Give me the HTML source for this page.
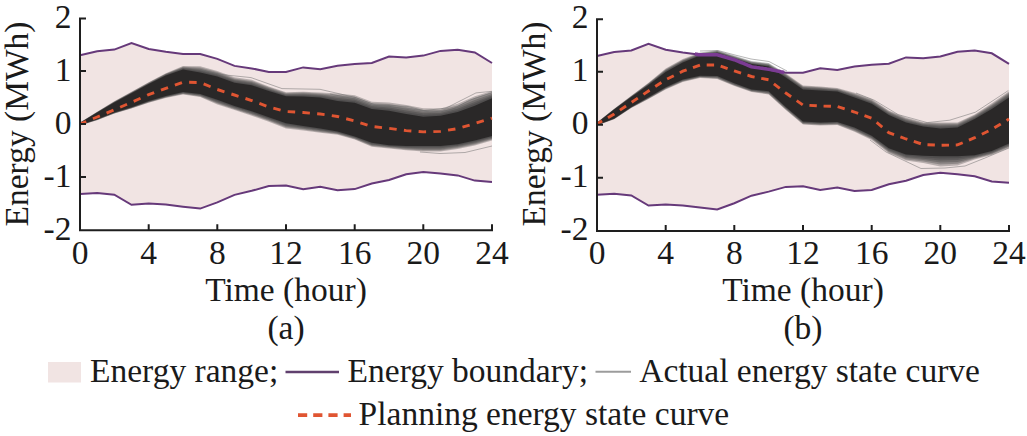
<!DOCTYPE html>
<html><head><meta charset="utf-8"><style>
html,body{margin:0;padding:0;background:#fff;}
svg{display:block;}
text{font-family:"Liberation Serif",serif;font-size:33.5px;fill:#1a1a1a;}
</style></head><body>
<svg width="1027" height="436" viewBox="0 0 1027 436">
<g transform="translate(0,0)">
<polygon points="80,55.2 97.2,51.3 114.3,49.6 131.5,43 148.7,49 165.8,51.7 183,54 200.2,54 217.3,58.9 234.5,65.9 251.7,68.4 268.8,71.9 286,72 303.2,67.4 320.3,69.2 337.5,65.7 354.7,64 371.8,63 389,56.6 406.2,57.5 423.3,55.6 440.5,50.9 457.7,49.8 474.8,52.5 492,63 492,182 474.8,180.6 457.7,175.4 440.5,173.4 423.3,171.9 406.2,174.2 389,180 371.8,183.5 354.7,189.1 337.5,190.3 320.3,186.8 303.2,189.3 286,185.5 268.8,186.1 251.7,190.8 234.5,194.9 217.3,202.4 200.2,208.6 183,206.7 165.8,204.6 148.7,203.6 131.5,204.8 114.3,194.7 97.2,192.9 80,193.9" fill="#f1e4e3"/>
<polygon points="80,122.4 97.2,111.7 114.3,101.3 131.5,91.8 148.7,82.3 165.8,73.2 183,66 200.2,66.2 217.3,71 234.5,77.3 251.7,79.8 268.8,86.4 286,92.3 303.2,91.7 320.3,92.6 337.5,93.6 354.7,95.2 371.8,101.8 389,102.4 406.2,105.1 423.3,108.3 440.5,108.4 457.7,103.7 474.8,96.2 492,90.9 492,140.5 474.8,145.5 457.7,149 440.5,151.6 423.3,151.6 406.2,150.3 389,148.4 371.8,146.8 354.7,139.6 337.5,134.8 320.3,132.8 303.2,130.5 286,128.5 268.8,121.7 251.7,115.7 234.5,110 217.3,104.6 200.2,97 183,94.5 165.8,98 148.7,102.7 131.5,108.5 114.3,113.6 97.2,120.2 80,125.5" fill="#333" fill-opacity="0.3"/>
<polygon points="80,122.5 97.2,111.9 114.3,101.6 131.5,92.1 148.7,82.6 165.8,73.7 183,66.7 200.2,67.4 217.3,72.1 234.5,78.4 251.7,80.9 268.8,87.3 286,93.1 303.2,92.6 320.3,93.5 337.5,95.1 354.7,96.7 371.8,103.2 389,104.1 406.2,106.9 423.3,110 440.5,109.9 457.7,105.4 474.8,98.1 492,92.4 492,139.6 474.8,144.5 457.7,148 440.5,150.5 423.3,150.5 406.2,149.4 389,147.8 371.8,146 354.7,139 337.5,134.1 320.3,131.9 303.2,129.6 286,127.5 268.8,120.8 251.7,114.8 234.5,109.2 217.3,103.6 200.2,96.4 183,94 165.8,97.6 148.7,102.4 131.5,108.2 114.3,113.4 97.2,120 80,125.4" fill="#333" fill-opacity="0.3"/>
<polygon points="80,122.7 97.2,112 114.3,101.8 131.5,92.4 148.7,83 165.8,74.1 183,67.4 200.2,68.7 217.3,73.2 234.5,79.5 251.7,82 268.8,88.2 286,93.9 303.2,93.6 320.3,94.5 337.5,96.6 354.7,98.2 371.8,104.7 389,105.7 406.2,108.7 423.3,111.7 440.5,111.4 457.7,107.1 474.8,100 492,93.9 492,138.7 474.8,143.5 457.7,147.1 440.5,149.4 423.3,149.4 406.2,148.6 389,147.1 371.8,145.2 354.7,138.3 337.5,133.5 320.3,131.1 303.2,128.7 286,126.4 268.8,119.9 251.7,113.9 234.5,108.4 217.3,102.7 200.2,95.8 183,93.5 165.8,97.2 148.7,102.1 131.5,108 114.3,113.2 97.2,119.8 80,125.3" fill="#333" fill-opacity="0.3"/>
<polygon points="80,122.8 97.2,112.2 114.3,102 131.5,92.7 148.7,83.4 165.8,74.6 183,68.1 200.2,70 217.3,74.3 234.5,80.6 251.7,83.1 268.8,89.2 286,94.7 303.2,94.6 320.3,95.5 337.5,98.1 354.7,99.7 371.8,106.1 389,107.4 406.2,110.5 423.3,113.3 440.5,112.9 457.7,108.7 474.8,101.9 492,95.4 492,137.8 474.8,142.6 457.7,146.1 440.5,148.2 423.3,148.2 406.2,147.7 389,146.5 371.8,144.4 354.7,137.7 337.5,132.8 320.3,130.2 303.2,127.8 286,125.4 268.8,119.1 251.7,113 234.5,107.6 217.3,101.7 200.2,95.2 183,93 165.8,96.8 148.7,101.7 131.5,107.7 114.3,113 97.2,119.7 80,125.2" fill="#333" fill-opacity="0.3"/>
<polygon points="80,122.9 97.2,112.4 114.3,102.3 131.5,93 148.7,83.7 165.8,75 183,68.8 200.2,71.2 217.3,75.4 234.5,81.7 251.7,84.2 268.8,90.1 286,95.5 303.2,95.5 320.3,96.5 337.5,99.5 354.7,101.2 371.8,107.6 389,109 406.2,112.2 423.3,115 440.5,114.3 457.7,110.4 474.8,103.8 492,96.8 492,136.9 474.8,141.6 457.7,145.2 440.5,147.1 423.3,147.1 406.2,146.9 389,145.8 371.8,143.6 354.7,137 337.5,132.2 320.3,129.4 303.2,126.9 286,124.3 268.8,118.2 251.7,112.1 234.5,106.8 217.3,100.8 200.2,94.6 183,92.5 165.8,96.4 148.7,101.4 131.5,107.5 114.3,112.8 97.2,119.5 80,125.1" fill="#333" fill-opacity="0.3"/>
<polyline points="200,70 223,74.7 251,77.6 282,88.6 320,89.3 355,97.4 375,104.8 408,106.5 424,110.6 446,108.1 476,92.9 492,91.3" fill="none" stroke="#6a6a6a" stroke-opacity="0.55" stroke-width="0.9"/>
<polyline points="330,94 355,99 375,106 408,108.5 430,112 450,110.5 470,100 492,92.5" fill="none" stroke="#6a6a6a" stroke-opacity="0.55" stroke-width="0.9"/>
<polyline points="420,152 440,153.5 465,152.5 492,146" fill="none" stroke="#6a6a6a" stroke-opacity="0.55" stroke-width="0.9"/>
<polygon points="80,123 97.2,112.6 114.3,102.5 131.5,93.3 148.7,84.1 165.8,75.5 183,69.5 200.2,72.5 217.3,76.5 234.5,82.8 251.7,85.3 268.8,91 286,96.3 303.2,96.5 320.3,97.5 337.5,101 354.7,102.7 371.8,109 389,110.7 406.2,114 423.3,116.7 440.5,115.8 457.7,112.1 474.8,105.7 492,98.3 492,136 474.8,140.6 457.7,144.2 440.5,146 423.3,146 406.2,146 389,145.2 371.8,142.8 354.7,136.4 337.5,131.5 320.3,128.5 303.2,126 286,123.3 268.8,117.3 251.7,111.2 234.5,106 217.3,99.8 200.2,94 183,92 165.8,96 148.7,101.1 131.5,107.2 114.3,112.6 97.2,119.3 80,125" fill="#2a2828"/>
<polyline points="80,55.2 97.2,51.3 114.3,49.6 131.5,43 148.7,49 165.8,51.7 183,54 200.2,54 217.3,58.9 234.5,65.9 251.7,68.4 268.8,71.9 286,72 303.2,67.4 320.3,69.2 337.5,65.7 354.7,64 371.8,63 389,56.6 406.2,57.5 423.3,55.6 440.5,50.9 457.7,49.8 474.8,52.5 492,63" fill="none" stroke="#66397a" stroke-width="2"/>
<polyline points="80,193.9 97.2,192.9 114.3,194.7 131.5,204.8 148.7,203.6 165.8,204.6 183,206.7 200.2,208.6 217.3,202.4 234.5,194.9 251.7,190.8 268.8,186.1 286,185.5 303.2,189.3 320.3,186.8 337.5,190.3 354.7,189.1 371.8,183.5 389,180 406.2,174.2 423.3,171.9 440.5,173.4 457.7,175.4 474.8,180.6 492,182" fill="none" stroke="#66397a" stroke-width="2"/>
<polyline points="80,124 97.2,117 114.3,109.8 131.5,102.3 148.7,94.6 165.8,88.3 183,82.2 200.2,82.5 217.3,89.5 234.5,95 251.7,100.5 268.8,107 286,111.5 303.2,112.5 320.3,114 337.5,116.5 354.7,121 371.8,126.5 389,128.3 406.2,130.6 423.3,131.9 440.5,131.4 457.7,128.6 474.8,123.5 492,118.2" fill="none" stroke="#e05532" stroke-width="2.9" stroke-dasharray="7.5 7.27" stroke-dashoffset="0.8"/>
<path d="M86,18.5 H80 V230.3 H492 V224.3" fill="none" stroke="#1e1e1e" stroke-width="2"/>
<path d="M80,71 h6 M80,124 h6 M80,177 h6 M148.7,230.3 v-6 M217.3,230.3 v-6 M286,230.3 v-6 M354.7,230.3 v-6 M423.3,230.3 v-6" stroke="#1e1e1e" stroke-width="2"/>
</g>
<text x="71.5" y="27.6" text-anchor="end">2</text>
<text x="71.5" y="80.6" text-anchor="end">1</text>
<text x="71.5" y="133.6" text-anchor="end">0</text>
<text x="71.5" y="186.6" text-anchor="end">-1</text>
<text x="71.5" y="239.6" text-anchor="end">-2</text>
<text x="80" y="263.5" text-anchor="middle">0</text>
<text x="148.7" y="263.5" text-anchor="middle">4</text>
<text x="217.3" y="263.5" text-anchor="middle">8</text>
<text x="286" y="263.5" text-anchor="middle">12</text>
<text x="354.7" y="263.5" text-anchor="middle">16</text>
<text x="423.3" y="263.5" text-anchor="middle">20</text>
<text x="492" y="263.5" text-anchor="middle">24</text>
<text x="286" y="301" text-anchor="middle">Time (hour)</text>
<text x="286" y="339.1" text-anchor="middle">(a)</text>
<text transform="translate(28,124) rotate(-90)" text-anchor="middle">Energy (MWh)</text>
<g transform="translate(0,0.8)">
<polygon points="597,55.2 614.2,51.3 631.3,49.6 648.5,43 665.7,49 682.8,51.7 700,54 717.2,54 734.3,58.9 751.5,65.9 768.7,68.4 785.8,71.9 803,72 820.2,67.4 837.3,69.2 854.5,65.7 871.7,64 888.8,63 906,56.6 923.2,57.5 940.3,55.6 957.5,50.9 974.7,49.8 991.8,52.5 1009,63 1009,182 991.8,180.6 974.7,175.4 957.5,173.4 940.3,171.9 923.2,174.2 906,180 888.8,183.5 871.7,189.1 854.5,190.3 837.3,186.8 820.2,189.3 803,185.5 785.8,186.1 768.7,190.8 751.5,194.9 734.3,202.4 717.2,208.6 700,206.7 682.8,204.6 665.7,203.6 648.5,204.8 631.3,194.7 614.2,192.9 597,193.9" fill="#f1e4e3"/>
<polygon points="597,121.6 614.2,107.9 631.3,95 648.5,81.9 665.7,67.8 682.8,58.2 700,51.8 717.2,49.4 734.3,54.8 751.5,60.3 768.7,62.2 785.8,72.7 803,84.7 820.2,85.7 837.3,87.2 854.5,92 871.7,98.2 888.8,109.6 906,116.8 923.2,121.5 940.3,121.6 957.5,121.8 974.7,113.6 991.8,102.5 1009,90.4 1009,147.2 991.8,154.2 974.7,158.6 957.5,164.8 940.3,165.8 923.2,162.2 906,159.8 888.8,152.5 871.7,139.1 854.5,130.9 837.3,124.2 820.2,124.7 803,123.7 785.8,109.2 768.7,93.7 751.5,91.2 734.3,85.2 717.2,78.2 700,77.2 682.8,81.2 665.7,88.7 648.5,98.2 631.3,107.2 614.2,118.4 597,124.7" fill="#333" fill-opacity="0.3"/>
<polygon points="597,121.7 614.2,108.1 631.3,95.3 648.5,82.4 665.7,68.4 682.8,58.9 700,52.4 717.2,49.9 734.3,55.4 751.5,60.9 768.7,62.9 785.8,73.5 803,85.5 820.2,86.5 837.3,87.9 854.5,92.9 871.7,99.1 888.8,110.5 906,117.7 923.2,122.3 940.3,122.8 957.5,122.7 974.7,114.5 991.8,103.6 1009,91.6 1009,146.3 991.8,153.4 974.7,157.8 957.5,162.9 940.3,163.7 923.2,160.8 906,158.6 888.8,151.5 871.7,138.3 854.5,130.1 837.3,123.6 820.2,124.1 803,123.1 785.8,108.6 768.7,93.1 751.5,90.7 734.3,84.7 717.2,77.6 700,76.8 682.8,80.7 665.7,88.2 648.5,97.9 631.3,107 614.2,118.3 597,124.6" fill="#333" fill-opacity="0.3"/>
<polygon points="597,121.9 614.2,108.2 631.3,95.5 648.5,82.8 665.7,69.1 682.8,59.6 700,53 717.2,50.4 734.3,56 751.5,61.5 768.7,63.6 785.8,74.3 803,86.3 820.2,87.3 837.3,88.6 854.5,93.9 871.7,100.1 888.8,111.5 906,118.7 923.2,123.1 940.3,124 957.5,123.7 974.7,115.5 991.8,104.8 1009,92.9 1009,145.4 991.8,152.6 974.7,156.9 957.5,161.1 940.3,161.7 923.2,159.3 906,157.3 888.8,150.5 871.7,137.5 854.5,129.2 837.3,123 820.2,123.5 803,122.5 785.8,108 768.7,92.4 751.5,90.2 734.3,84.1 717.2,77 700,76.3 682.8,80.2 665.7,87.8 648.5,97.5 631.3,106.8 614.2,118.1 597,124.5" fill="#333" fill-opacity="0.3"/>
<polygon points="597,122 614.2,108.4 631.3,95.7 648.5,83.3 665.7,69.8 682.8,60.3 700,53.6 717.2,50.9 734.3,56.6 751.5,62.1 768.7,64.3 785.8,75.1 803,87 820.2,88 837.3,89.3 854.5,94.9 871.7,101.1 888.8,112.4 906,119.7 923.2,123.9 940.3,125.2 957.5,124.7 974.7,116.4 991.8,105.9 1009,94.2 1009,144.5 991.8,151.9 974.7,156.1 957.5,159.2 940.3,159.6 923.2,157.9 906,156.1 888.8,149.4 871.7,136.6 854.5,128.4 837.3,122.4 820.2,122.9 803,122 785.8,107.3 768.7,91.8 751.5,89.7 734.3,83.6 717.2,76.5 700,75.9 682.8,79.7 665.7,87.3 648.5,97.2 631.3,106.6 614.2,118 597,124.4" fill="#333" fill-opacity="0.3"/>
<polygon points="597,122.1 614.2,108.5 631.3,96 648.5,83.7 665.7,70.5 682.8,61 700,54.1 717.2,51.5 734.3,57.1 751.5,62.6 768.7,65 785.8,75.9 803,87.8 820.2,88.8 837.3,90 854.5,95.8 871.7,102 888.8,113.4 906,120.6 923.2,124.8 940.3,126.4 957.5,125.6 974.7,117.4 991.8,107 1009,95.4 1009,143.6 991.8,151.1 974.7,155.2 957.5,157.4 940.3,157.6 923.2,156.4 906,154.8 888.8,148.4 871.7,135.8 854.5,127.5 837.3,121.8 820.2,122.3 803,121.4 785.8,106.7 768.7,91.1 751.5,89.2 734.3,83 717.2,75.9 700,75.4 682.8,79.2 665.7,86.9 648.5,96.8 631.3,106.4 614.2,117.8 597,124.3" fill="#333" fill-opacity="0.3"/>
<polyline points="700,50.2 718,49.7 735,54.2 751,58.2 769,60.7 787,70.2" fill="none" stroke="#6a6a6a" stroke-opacity="0.55" stroke-width="0.9"/>
<polyline points="856,92.2 874.1,99.3 898.2,113.8 927.2,121.8 949.7,119.4 975.4,111.4 1008.4,89.7" fill="none" stroke="#6a6a6a" stroke-opacity="0.55" stroke-width="0.9"/>
<polyline points="870,139.2 886,151.2 921,167.7 945,167.2 965,165.2 985,157.2 1009,147.2" fill="none" stroke="#6a6a6a" stroke-opacity="0.55" stroke-width="0.9"/>
<polygon points="597,122.2 614.2,108.7 631.3,96.2 648.5,84.2 665.7,71.2 682.8,61.7 700,54.7 717.2,52 734.3,57.7 751.5,63.2 768.7,65.7 785.8,76.7 803,88.6 820.2,89.6 837.3,90.7 854.5,96.8 871.7,103 888.8,114.3 906,121.6 923.2,125.6 940.3,127.6 957.5,126.6 974.7,118.3 991.8,108.2 1009,96.7 1009,142.7 991.8,150.3 974.7,154.4 957.5,155.5 940.3,155.5 923.2,155 906,153.6 888.8,147.4 871.7,135 854.5,126.7 837.3,121.2 820.2,121.7 803,120.8 785.8,106.1 768.7,90.5 751.5,88.7 734.3,82.5 717.2,75.3 700,75 682.8,78.7 665.7,86.4 648.5,96.5 631.3,106.2 614.2,117.7 597,124.2" fill="#2a2828"/>
<polyline points="597,55.2 614.2,51.3 631.3,49.6 648.5,43 665.7,49 682.8,51.7 700,54 717.2,54 734.3,58.9 751.5,65.9 768.7,68.4 785.8,71.9 803,72 820.2,67.4 837.3,69.2 854.5,65.7 871.7,64 888.8,63 906,56.6 923.2,57.5 940.3,55.6 957.5,50.9 974.7,49.8 991.8,52.5 1009,63" fill="none" stroke="#66397a" stroke-width="2"/>
<polyline points="597,193.9 614.2,192.9 631.3,194.7 648.5,204.8 665.7,203.6 682.8,204.6 700,206.7 717.2,208.6 734.3,202.4 751.5,194.9 768.7,190.8 785.8,186.1 803,185.5 820.2,189.3 837.3,186.8 854.5,190.3 871.7,189.1 888.8,183.5 906,180 923.2,174.2 940.3,171.9 957.5,173.4 974.7,175.4 991.8,180.6 1009,182" fill="none" stroke="#66397a" stroke-width="2"/>
<polyline points="597,123.2 614.2,113.2 631.3,101.7 648.5,90.2 665.7,78.9 682.8,70.4 700,64.2 717.2,64.2 734.3,70.2 751.5,75.7 768.7,79 785.8,92.2 803,104.2 820.2,105.2 837.3,105.6 854.5,111.2 871.7,117.4 888.8,131.9 906,138.2 923.2,143.7 940.3,144.5 957.5,144.1 974.7,136.9 991.8,128.6 1009,118.3" fill="none" stroke="#e05532" stroke-width="2.9" stroke-dasharray="7.4 6.75" stroke-dashoffset="1.5"/>
<polyline points="694.9,53.3 696.6,53.5 698.3,53.8 700,54 701.7,54 703.4,54 705.1,54 706.9,54 708.6,54 710.3,54 712,54 713.7,54 715.5,54 717.2,54 718.9,54.5 720.6,55 722.3,55.5 724,56 725.8,56.5 727.5,56.9 729.2,57.4 730.9,57.9 732.6,58.4 734.3,58.9 736,59.6 737.8,60.3 739.5,61 741.2,61.7 742.9,62.4 744.6,63.1 746.4,63.8 748.1,64.5 749.8,65.2 751.5,65.9 753.2,66.2 754.9,66.4 756.7,66.7 758.4,66.9 760.1,67.2 761.8,67.4 763.5,67.7 765.2,67.9 767,68.2 768.7,68.4 770.4,68.8 772.1,69.1 773.8,69.5 775.5,69.8 777.2,70.2 779,70.5 780.7,70.9 782.4,71.2 784.1,71.6" fill="none" stroke="#7b3b93" stroke-width="3.6"/>
<path d="M603,18.5 H597 V230.3 H1009 V224.3" fill="none" stroke="#1e1e1e" stroke-width="2"/>
<path d="M597,71 h6 M597,124 h6 M597,177 h6 M665.7,230.3 v-6 M734.3,230.3 v-6 M803,230.3 v-6 M871.7,230.3 v-6 M940.3,230.3 v-6" stroke="#1e1e1e" stroke-width="2"/>
</g>
<text x="588.5" y="27.6" text-anchor="end">2</text>
<text x="588.5" y="80.6" text-anchor="end">1</text>
<text x="588.5" y="133.6" text-anchor="end">0</text>
<text x="588.5" y="186.6" text-anchor="end">-1</text>
<text x="588.5" y="239.6" text-anchor="end">-2</text>
<text x="597" y="263.5" text-anchor="middle">0</text>
<text x="665.7" y="263.5" text-anchor="middle">4</text>
<text x="734.3" y="263.5" text-anchor="middle">8</text>
<text x="803" y="263.5" text-anchor="middle">12</text>
<text x="871.7" y="263.5" text-anchor="middle">16</text>
<text x="940.3" y="263.5" text-anchor="middle">20</text>
<text x="1009" y="263.5" text-anchor="middle">24</text>
<text x="803" y="301" text-anchor="middle">Time (hour)</text>
<text x="803" y="339.1" text-anchor="middle">(b)</text>
<text transform="translate(545,124) rotate(-90)" text-anchor="middle">Energy (MWh)</text>
<rect x="48" y="362" width="33" height="20.5" fill="#f1e4e3"/>
<text x="90" y="382.2">Energy range;</text>
<path d="M285.5,372 H339" stroke="#60406e" stroke-width="2.4"/>
<text x="347.6" y="382.2">Energy boundary;</text>
<path d="M595.5,371.8 H631" stroke="#9c9c9c" stroke-width="2"/>
<text x="639.2" y="382.4">Actual energy state curve</text>
<path d="M298,415.1 H351" stroke="#e05532" stroke-width="3.8" stroke-dasharray="9.2 6"/>
<text x="358.6" y="425.1">Planning energy state curve</text>
</svg>
</body></html>
